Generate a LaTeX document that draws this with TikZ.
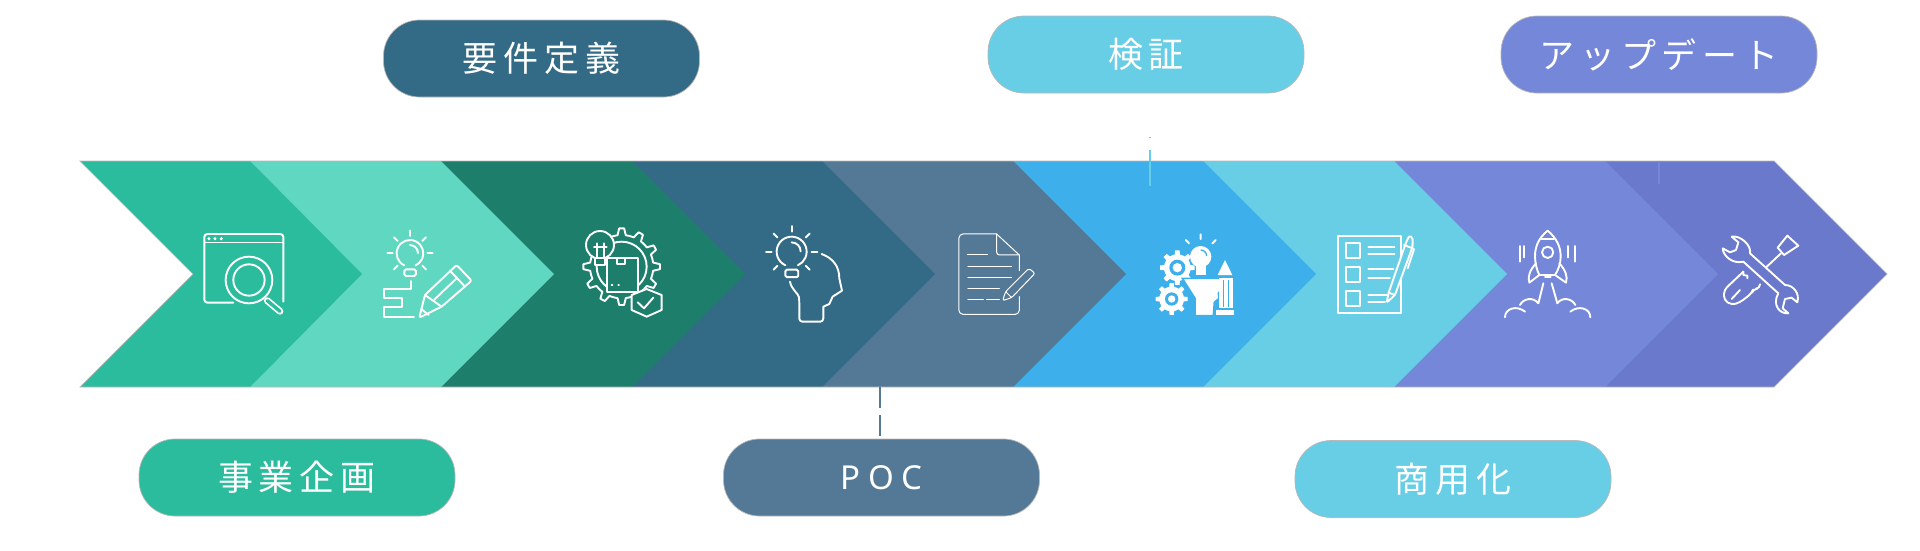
\documentclass[tikz,border=0pt]{standalone}
\usepackage{fontspec}
\usepackage{xcolor}
\newfontfamily\jpfont[LetterSpace=17,BoldFont=*]{Noto Sans CJK JP}
\newfontfamily\latinfont[LetterSpace=22]{Noto Sans}
\usetikzlibrary{positioning}
\definecolor{chevA}{HTML}{2BBC9E}
\definecolor{chevB}{HTML}{60D7C0}
\definecolor{chevC}{HTML}{1D7F6B}
\definecolor{chevD}{HTML}{336B86}
\definecolor{chevE}{HTML}{547996}
\definecolor{chevF}{HTML}{3DB0EB}
\definecolor{chevG}{HTML}{67CEE6}
\definecolor{chevH}{HTML}{7587D8}
\definecolor{chevI}{HTML}{6A79CB}
\tikzset{
  pillbox/.style={rectangle, rounded corners=36pt, draw=black!28, line width=0.7pt,
                  minimum width=316pt, minimum height=77pt, text=white, inner sep=0pt,
                  font=\jpfont\fontsize{35}{40}\selectfont},
  icon/.style={draw=white, line width=1.9pt, line cap=round, line join=round},
  thinicon/.style={draw=white, line width=1pt, line cap=round, line join=round},
  zoomed/.style 2 args={shift={(#1,#2)}, scale=0.3333},
  stub/.style={line width=2.6pt},
}
% bulb outline, neck and highlight
\newcommand{\bulbicon}[3]{
  \draw[icon] ([shift={(115:#3)}]#1,#2) arc[start angle=115, end angle=425, radius=#3];
  \draw[icon, rounded corners=1.5pt] ([shift={(-#3*0.42,#3*1.2)}]#1,#2) rectangle ([shift={(#3*0.44,#3*1.7)}]#1,#2);
  \draw[icon] ([shift={(0,-#3*0.62)}]#1,#2) arc[start angle=-90, end angle=0, radius=#3*0.6];
}
\newcommand{\bulbrays}[4]{
  \foreach \ang in {0,-45,-90,-135,180,135,45}
    \draw[icon] ([shift={(\ang:#3)}]#1,#2) -- ([shift={(\ang:#4)}]#1,#2);
}
% teeth count, outer radius, inner radius
\newcommand{\gearcurve}[3]{plot[domain=0:360, samples=97] (\x:{cos(#1*\x)>0 ? #2 : #3}) -- cycle}

\begin{document}
\begin{tikzpicture}[x=1pt, y=-1pt]
  \useasboundingbox (0,0) rectangle (1920,550);
  % band, back to front
  \foreach \xa/\xb/\colr in {1605/1774/chevI, 1394/1605/chevH, 1203/1394/chevG, 1013/1203/chevF,
                             822/1013/chevE, 632/822/chevD, 441/632/chevC, 250/441/chevB}
    \fill[\colr] (\xa,161) -- (\xb,161) -- (\xb+113,274) -- (\xb,387) -- (\xa,387) -- cycle;
  \fill[chevA] (80,161) -- (250,161) -- (362,274) -- (250,387) -- (80,387) -- (193,274) -- cycle;
  \draw[black!28, line width=0.7pt] (80,161) -- (1774,161) -- (1887,274) -- (1774,387) -- (80,387) -- (193,274) -- cycle;

  % labels
  \node[pillbox, fill=chevD, font=\jpfont\bfseries\fontsize{35}{40}\selectfont] (yoken) at (541.5,58.5) {要件定義};
  \node[pillbox, fill=chevG, font=\jpfont\bfseries\fontsize{35}{40}\selectfont] (kensho) at (1146,54.5) {検証};
  \node[pillbox, fill=chevH, font=\jpfont\bfseries\fontsize{35}{40}\selectfont] (update) at (1659,54.5) {アップデート};
  \node[pillbox, fill=chevA] (kikaku) at (297,477.5) {事業企画};
  \node[pillbox, fill=chevE, font=\latinfont\bfseries\fontsize{33}{40}\selectfont] (poc) at (881.5,477.5) {POC};
  \node[pillbox, fill=chevG] (shoyo) at (1453,479) {商用化};

  % connector remains
  \coordinate (pocFoot) at (880,387);
  \coordinate (kenFoot) at (1150,136.5);
  \coordinate (kenEnd) at (1150,186);
  \coordinate (upFoot) at (1659,161);
  \coordinate (upEnd) at (1659,184);
  \draw[stub, chevE, dash pattern=on 21pt off 7pt] (pocFoot) -- (pocFoot |- poc.north);
  \draw[stub, chevG, dash pattern=on 1pt off 12pt on 11pt off 1pt on 25pt] (kenFoot) -- (kenEnd);
  \draw[stub, chevH] (upFoot) -- (upEnd);

  % browser and magnifier
  \begin{scope}[zoomed={60}{150}]
    \draw[icon, rounded corners=3pt] (520,458) -- (433,458) -- (433,252) -- (670,252) -- (670,455);
    \draw[icon, line width=1.4pt] (433,277) -- (670,277);
    \foreach \dotx in {447,465,484} \fill[white] (\dotx,266) circle[radius=5];
    \fill[chevA] (567,390) circle[radius=72];
    \draw[icon] (567,390) circle[radius=70];
    \draw[icon] (567,390) circle[radius=47];
    \draw[icon, double=chevA, double distance=3.4pt, line width=1.7pt] (622,452) -- (660,484);
  \end{scope}

  % bulb, path and pencil
  \begin{scope}[zoomed={60}{150}]
    \bulbicon{1050}{310}{40}
    \bulbrays{1050}{310}{52}{68}
    \draw[icon] (1052,393) -- (1052,418) -- (973,418) -- (973,445) -- (1025,445) -- (1025,472) -- (973,472) -- (973,500) -- (1062,500);
    \draw[icon, rounded corners=2pt] (1078,503) -- (1095,435) -- (1190,345) -- (1235,392) -- (1145,470) -- cycle;
    \draw[icon] (1170,362) -- (1215,410);
    \draw[icon] (1095,435) -- (1145,470);
    \draw[icon] (1122,450) -- (1192,383);
    \draw[icon] (1085,478) -- (1106,495);
  \end{scope}

  % gear, box, bulb and shield
  \begin{scope}[zoomed={570}{215}]
    \draw[icon, shift={(155,155)}] \gearcurve{12}{115}{95};
    \draw[icon] (155,155) circle[radius=75];
    \filldraw[icon, fill=chevC] (110,130) rectangle (205,232);
    \draw[icon] (140,130) rectangle (165,147);
    \draw[icon] (125,210) -- (127,210) (145,210) -- (147,210);
    \filldraw[icon, fill=chevC] (90,90) circle[radius=42];
    \filldraw[icon, fill=chevC] (75,128) rectangle (105,150);
    \draw[icon] (80,85) -- (80,128) (102,85) -- (102,128) (72,95) -- (110,95);
    \filldraw[icon, fill=chevC] (230,222) -- (275,240) -- (275,285) -- (230,305) -- (185,285) -- (185,240) -- cycle;
    \draw[icon] (203,262) -- (222,280) -- (250,248);
  \end{scope}

  % head with bulb
  \begin{scope}[zoomed={550}{150}]
    \bulbicon{725}{305}{45}
    \bulbrays{725}{305}{60}{77}
    \draw[icon] (815,312) .. controls (850,325) and (868,350) .. (868,385) -- (876,422) -- (848,440) -- (838,462) -- (820,470)
      [rounded corners=3pt] -- (820,515) -- (748,515) -- (748,450) [sharp corners] .. controls (745,430) and (725,420) .. (720,395);
  \end{scope}

  % document and pencil
  \begin{scope}[zoomed={550}{150}]
    \draw[thinicon, rounded corners=4pt] (1408,440) -- (1408,493) -- (1227,493) -- (1227,252) -- (1340,252);
    \draw[thinicon] (1340,252) -- (1408,315) -- (1408,362);
    \draw[thinicon, rounded corners=3pt] (1340,252) -- (1340,315) -- (1408,315);
    \draw[thinicon] (1252,315) -- (1313,315) (1254,350) -- (1385,350) (1254,383) -- (1385,383) (1254,416) -- (1348,416)
      (1254,450) -- (1300,450) (1310,450) -- (1348,450);
    \draw[thinicon, rounded corners=2pt] (1358,452) -- (1367,425) -- (1437,355) -- (1455,370) -- (1385,443) -- cycle;
    \draw[thinicon] (1367,425) -- (1385,443);
  \end{scope}

  % gears, solid head and pencil
  \begin{scope}[zoomed={1145}{225}]
    \fill[white, shift={(97,128)}] \gearcurve{8}{52}{40};
    \fill[chevF] (97,128) circle[radius=24];
    \fill[white] (97,128) circle[radius=14];
    \fill[white, shift={(80,222)}] \gearcurve{8}{48}{37};
    \fill[chevF] (80,222) circle[radius=20];
    \fill[white] (80,222) circle[radius=11];
    \fill[white] (167,95) circle[radius=32];
    \fill[white] (152,120) rectangle (182,150);
    \draw[chevF, line width=1.3pt] (167,75) arc[start angle=-90, end angle=0, radius=18];
    \draw[icon] (167,28) -- (167,42) (122,45) -- (132,55) (212,45) -- (202,55);
    \filldraw[fill=white, draw=chevF, line width=1.6pt] (112,160) -- (225,160) -- (232,190) -- (220,205) -- (222,220) -- (208,232) -- (205,272) -- (150,272) -- (150,220) -- cycle;
    \fill[white] (240,105) -- (262,150) -- (218,150) -- cycle;
    \fill[white] (222,158) rectangle (265,248);
    \fill[white] (212,254) rectangle (268,270);
    \draw[chevF, line width=1.2pt] (235,165) -- (235,245) (251,165) -- (251,245);
  \end{scope}

  % checklist and pen
  \begin{scope}[zoomed={1050}{150}]
    \draw[icon] (863,257) rectangle (1052,490);
    \draw[icon] (887,280) rectangle (930,325);
    \draw[icon] (887,352) rectangle (930,395);
    \draw[icon] (887,423) rectangle (930,467);
    \draw[icon] (955,290) -- (1033,290) (955,313) -- (1033,313) (955,357) -- (1030,357) (955,385) -- (1020,385)
      (955,435) -- (1010,435) (955,457) -- (1005,457);
    \filldraw[icon, fill=chevG, rounded corners=2pt] (1010,458) -- (1016,428) -- (1068,278) -- (1078,257) -- (1088,262) -- (1088,290) -- (1035,435) -- cycle;
    \draw[icon] (1016,428) -- (1035,435);
    \draw[icon] (1062,285) -- (1088,295) -- (1092,298) -- (1073,355);
  \end{scope}

  % rocket
  \begin{scope}[zoomed={1500}{0}]
    \draw[icon] (143,692) .. controls (115,715) and (105,740) .. (105,770) .. controls (105,790) and (112,815) .. (118,825) -- (165,825)
      .. controls (175,810) and (182,790) .. (182,770) .. controls (182,740) and (170,715) .. (143,692) -- cycle;
    \draw[icon] (108,790) .. controls (90,810) and (82,830) .. (88,848) -- (118,825);
    \draw[icon] (178,790) .. controls (196,810) and (204,830) .. (198,848) -- (165,825);
    \draw[icon] (143,757) circle[radius=17];
    \draw[icon] (125,717) -- (162,717);
    \draw[icon] (135,830) -- (152,830);
    \draw[icon] (60,738) -- (60,785) (72,738) -- (72,772) (205,738) -- (205,772) (225,738) -- (225,785);
    \draw[icon] (130,850) -- (115,910) (155,850) -- (172,910);
    \draw[icon] (15,952) .. controls (15,925) and (50,915) .. (75,935);
    \draw[icon] (60,915) .. controls (70,895) and (100,890) .. (115,910);
    \draw[icon] (271,952) .. controls (271,925) and (236,915) .. (211,935);
    \draw[icon] (226,915) .. controls (216,895) and (186,890) .. (172,910);
  \end{scope}

  % spanner and screwdriver
  \begin{scope}[zoomed={1710}{225}]
    \draw[icon] (222,90) -- (203,68) -- (232,32) -- (265,62) -- cycle;
    \draw[icon] (213,85) -- (165,130);
    \draw[icon, rounded corners=4pt] (100,140) -- (42,195) -- (42,225) -- (65,240) -- (90,232) -- (125,205) -- (130,192) -- (150,190) -- (150,180);
    \draw[icon] (100,140) -- (100,150) -- (112,152) -- (112,160);
    \draw[icon] (90,195) -- (65,222);
    \filldraw[icon, fill=chevI] (65,35) .. controls (90,30) and (125,60) .. (120,85) -- (225,180)
      .. controls (250,180) and (270,205) .. (262,232) -- (245,218) -- (225,222) -- (218,250) -- (235,265)
      .. controls (210,268) and (185,240) .. (205,205) -- (100,110) .. controls (70,118) and (40,95) .. (38,70)
      -- (60,82) -- (78,75) -- (85,52) -- cycle;
  \end{scope}
\end{tikzpicture}
\end{document}
